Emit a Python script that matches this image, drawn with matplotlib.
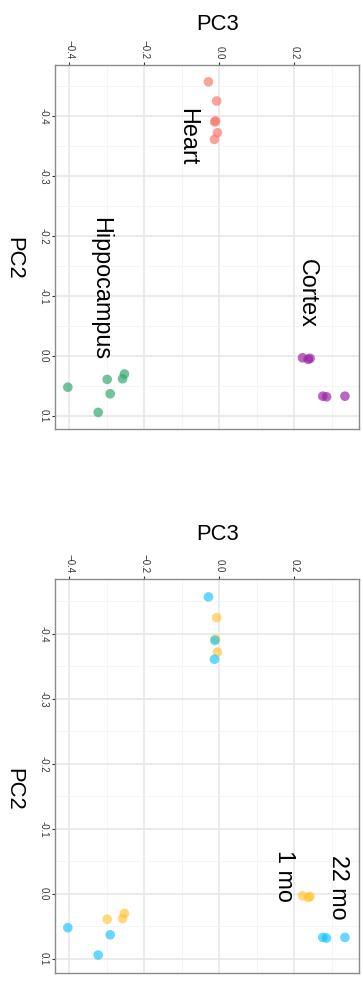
import matplotlib
matplotlib.use("Agg")
import matplotlib.pyplot as plt
import numpy as np

plt.rcParams['font.family'] = ['Liberation Sans', 'DejaVu Sans']

# ---- data ----
tissue = ["Heart"] * 6 + ["Hippocampus"] * 6 + ["Cortex"] * 6
age = (["1 mo"] * 3 + ["22 mo"] * 3) * 3
pc3 = [-0.007, -0.010, -0.005, -0.029, -0.012, -0.013,
       -0.299, -0.258, -0.253, -0.404, -0.291, -0.323,
       0.222, 0.237, 0.242, 0.276, 0.286, 0.335]
pc2 = [-0.425, -0.392, -0.372, -0.457, -0.390, -0.361,
       0.039, 0.038, 0.030, 0.052, 0.063, 0.094,
       0.003, 0.0055, 0.004, 0.067, 0.068, 0.067]

tissue_levels = ["Heart", "Hippocampus", "Cortex"]
tissue_colors = {"Heart": "#F8766D", "Hippocampus": "#2FA56B", "Cortex": "#9A1FA6"}
age_levels = ["1 mo", "22 mo"]
age_colors = {"1 mo": "#FFC125", "22 mo": "#00BFFF"}

x_ticks = [-0.4, -0.2, 0.0, 0.2]
x_ticklabels = ["\u22120.4", "\u22120.2", "0.0", "0.2"]
y_ticks = [-0.4, -0.3, -0.2, -0.1, 0.0, 0.1]
y_ticklabels = ["-0.4", "-0.3", "-0.2", "-0.1", "0.0", "0.1"]

pc3 = np.array(pc3)
pc2 = np.array(pc2)
tissue = np.array(tissue)
age = np.array(age)

W, H = 363, 983
fig = plt.figure(figsize=(W / 100, H / 100), dpi=100)


def px_axes(left, top, right, bottom):
    return fig.add_axes([left / W, 1 - bottom / H, (right - left) / W, (bottom - top) / H])


def style(ax):
    ax.set_xlim(-0.4395, 0.3712)
    ax.set_ylim(0.1222, -0.4845)
    ax.xaxis.tick_top()
    ax.set_xticks(x_ticks)
    ax.set_xticklabels(x_ticklabels, rotation=-90, fontsize=7.0, color="#333333")
    ax.set_yticks(y_ticks)
    ax.set_yticklabels(y_ticklabels, rotation=-90, fontsize=7.0, color="#333333", va="center")
    ax.set_xticks([-0.3, -0.1, 0.1, 0.3], minor=True)
    ax.set_yticks([-0.45, -0.35, -0.25, -0.15, -0.05, 0.05], minor=True)
    ax.tick_params(which="major", length=2.5, width=0.8, color="#333333", pad=2)
    ax.tick_params(which="minor", length=0)
    ax.grid(which="major", color="#E8E8E8", linewidth=1.2)
    ax.grid(which="minor", color="#F4F4F4", linewidth=0.6)
    ax.set_axisbelow(True)
    for s in ax.spines.values():
        s.set_color("#8A8A8A")
        s.set_linewidth(1.0)


# ---- panel 1: tissues ----
ax1 = px_axes(54.5, 65.3, 358.5, 429.3)
style(ax1)
for t in tissue_levels:
    m = tissue == t
    ax1.scatter(pc3[m], pc2[m], s=48, color=tissue_colors[t], alpha=0.68,
                edgecolors="none", zorder=3)
label_pos1 = {"Heart": (-0.085, -0.365), "Hippocampus": (-0.317, -0.112), "Cortex": (0.235, -0.104)}
for t in tissue_levels:
    x, y = label_pos1[t]
    ax1.text(x, y, t, rotation=-90, ha="center", va="center", fontsize=16.8, color="black")

# ---- panel 2: ages ----
ax2 = px_axes(54.5, 579, 358.5, 973.3)
style(ax2)
for a in age_levels:
    m = age == a
    ax2.scatter(pc3[m], pc2[m], s=48, color=age_colors[a], alpha=0.6,
                edgecolors="none", zorder=3)
label_pos2 = {"1 mo": (0.173, -0.027), "22 mo": (0.319, -0.010)}
for a in age_levels:
    x, y = label_pos2[a]
    ax2.text(x, y, a, rotation=-90, ha="center", va="center", fontsize=16.8, color="black")

# ---- axis titles ----
for ytop in (25, 535):
    fig.text(217.5 / W, 1 - ytop / H, "PC3", ha="center", va="center", fontsize=15.8)
for yc in (258, 789):
    fig.text(13.5 / W, 1 - yc / H, "PC2", ha="center", va="center", fontsize=15.8, rotation=-90)

fig.savefig("out.png", dpi=100, facecolor="white")
